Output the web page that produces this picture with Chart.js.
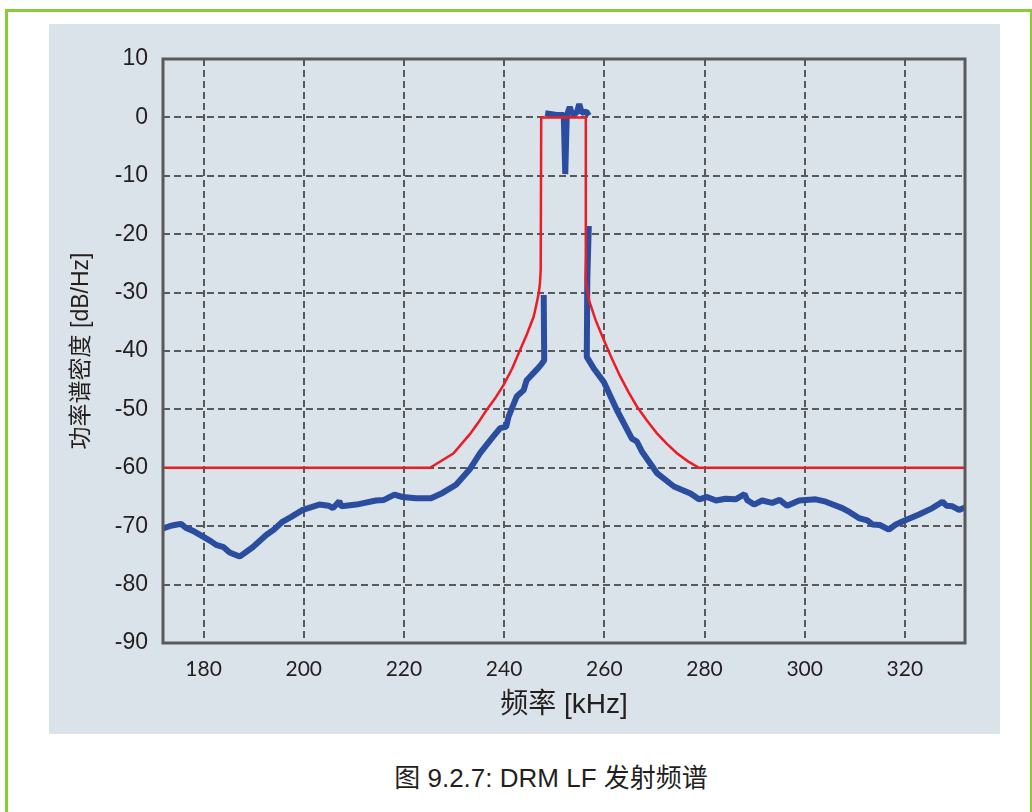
<!DOCTYPE html>
<html>
<head>
<meta charset="utf-8">
<script src="https://cdn.jsdelivr.net/npm/chart.js@4"></script>
<style>
  body { margin: 0; background: #fff; width: 1032px; height: 812px; overflow: hidden; position: relative; }
  .frame { position: absolute; left: 5px; top: 9px; width: 1022px; height: 900px; border: 3px solid #85cf34; }
  .panel { position: absolute; left: 49px; top: 24px; width: 951px; height: 710px; background: #dae2ea; }
  .caption { position: absolute; left: 301px; top: 757px; width: 500px; text-align: center; line-height: 30px;
             font: 26px "Liberation Sans", "Noto Sans CJK SC", sans-serif; color: #231f20; white-space: nowrap; }
</style>
</head>
<body>
<div class="frame"></div>
<div class="panel"><canvas id="chartSpec" width="951" height="710"></canvas></div>
<div class="caption">图 9.2.7: DRM LF 发射频谱</div>
<script>
// data - tick labels
const xTicks = [180, 200, 220, 240, 260, 280, 300, 320];
const yTicks = [10, 0, -10, -20, -30, -40, -50, -60, -70, -80, -90];

// data - spectrum mask (red)
const maskFreq  = [171.9, 225.2, 227.5, 229.9, 231.5, 233.2, 234.8, 236.5, 238.2, 239.9, 241.6, 243.2, 244.6, 245.9, 246.4, 246.9, 247.15, 247.3, 247.4,
                   256.3, 256.3, 256.6, 256.9, 258.3, 259.9, 261.5, 263.2, 264.8, 266.5, 268.5, 270.5, 272.5, 274.5, 276.7, 278.9, 332];
const maskLevel = [-60,   -60,   -58.8, -57.5, -55.9, -54.2, -52.3, -50.1, -48.1, -45.8, -43.0, -39.8, -37.0, -34.1, -32.2, -30.1, -28.4, -26,   0,
                   0,     -27.8, -29.6, -31.2, -34.8, -38.1, -41.3, -44.4, -47.0, -49.5, -51.9, -54.1, -55.9, -57.5, -58.9, -60,   -60];

// data - measured spectrum (blue), null = gap
const specFreq = [
    171.9, 173.2, 174.2, 175.5, 176.5, 177.9, 179.9, 181.5, 182.5, 184.0, 185.2, 187.2, 189.8, 192.5, 194.0, 195.8,
    197.5, 199.8, 203.1, 205.0, 205.8, 206.6, 207.1, 207.5, 210.5, 214.4, 216.0, 218.1, 219.7, 222.4, 225.4, 227.7,
    230.4, 233.1, 235.2, 237.2, 239.2, 240.4, 240.9, 242.5, 243.9, 244.5, 246.5, 247.5, 248.0, 247.9, 248.0,
    248.2, 250.5, 251.9, 252.2, 252.5, 253.1, 253.5, 254.5, 255.0, 255.5, 256.4, 256.9, 256.9,
    256.9, 256.6, 256.5, 257.9, 259.9, 262.5, 265.5, 266.5, 267.5, 270.5, 273.9, 277.2, 278.9, 280.5, 282.3, 284.2,
    286.2, 288.0, 288.5, 289.9, 291.5, 293.5, 295.0, 296.5, 298.9, 302.2, 304.2, 307.5, 309.0, 310.8, 312.5, 313.5,
    315.0, 316.8, 318.0, 319.5, 322.8, 325.5, 327.5, 328.3, 329.5, 330.8, 332.0
];
const specLevel = [
    -70.4, -70.0, -69.8, -69.6, -70.3, -70.8, -71.8, -72.6, -73.2, -73.6, -74.5, -75.2, -73.6, -71.5, -70.6, -69.2,
    -68.4, -67.2, -66.3, -66.5, -66.9, -66.2, -65.7, -66.6, -66.3, -65.6, -65.5, -64.6, -65.0, -65.2, -65.2, -64.3,
    -62.9, -60.3, -57.5, -55.3, -53.2, -53.0, -51.2, -47.8, -46.7, -45.0, -43.2, -42.2, -41.6, -30.4, null,
    0.7, 0.4, 0.4, -9.7, 0.3, 1.8, 0.6, 0.8, 2.3, 0.8, 1.0, 0.3, null,
    -18.6, -27.8, -41.0, -43.0, -45.3, -50.1, -55.0, -55.5, -57.2, -60.9, -63.2, -64.4, -65.4, -65.0, -65.6, -65.3,
    -65.4, -64.5, -65.5, -66.3, -65.6, -66.0, -65.5, -66.5, -65.6, -65.4, -65.8, -66.9, -67.6, -68.6, -69.0, -69.7,
    -69.8, -70.6, -69.8, -69.2, -68.0, -66.9, -65.8, -66.5, -66.6, -67.2, -66.8
];

//chart - variables
const gridColor = '#58595b';
const textColor = '#231f20';
const toPoints = (xs, ys) => xs.map((x, i) => ({x: x, y: ys[i]}));

//chart - spectrum
const ctxSpec = document.getElementById('chartSpec').getContext('2d');
new Chart(ctxSpec, {
    type: 'line',
    data: {
        datasets: [
            {
                data: toPoints(maskFreq, maskLevel),
                borderColor: '#ed1c24',
                borderWidth: 2.5,
                pointRadius: 0,
                tension: 0,
                order: 0
            },
            {
                data: toPoints(specFreq, specLevel),
                borderColor: '#2a4d9f',
                borderWidth: 6,
                borderJoinStyle: 'bevel',
                pointRadius: 0,
                tension: 0,
                spanGaps: false,
                order: 1
            }
        ]
    },
    options: {
        responsive: false,
        animation: false,
        devicePixelRatio: 1,
        layout: {padding: {top: 35, right: 35, left: 0, bottom: 0}},
        plugins: {
            legend: {display: false},
            tooltip: {enabled: false}
        },
        scales: {
            x: {
                type: 'linear',
                min: 171.9,
                max: 332,
                afterBuildTicks: s => { s.ticks = xTicks.map(v => ({value: v})); },
                afterFit: s => { s.height = 91; },
                grid: {color: gridColor, lineWidth: 2, drawTicks: false},
                border: {display: false, dash: [7, 4]},
                ticks: {
                    padding: 14,
                    color: textColor,
                    font: {family: 'Lato', size: 21}
                },
                title: {
                    display: true,
                    text: '频率 [kHz]',
                    color: textColor,
                    padding: {bottom: 12},
                    font: {family: '"Liberation Sans", "Noto Sans CJK SC"', size: 28}
                }
            },
            y: {
                min: -90,
                max: 10,
                afterBuildTicks: s => { s.ticks = yTicks.map(v => ({value: v})); },
                afterFit: s => { s.width = 114; },
                grid: {color: gridColor, lineWidth: 2, drawTicks: false},
                border: {display: false, dash: [7, 4]},
                ticks: {
                    padding: 15,
                    color: textColor,
                    font: {family: 'Liberation Sans', size: 23}
                },
                title: {
                    display: true,
                    text: '功率谱密度 [dB/Hz]',
                    color: textColor,
                    padding: {top: 19},
                    font: {family: '"Liberation Sans", "Noto Sans CJK SC"', size: 23}
                }
            }
        }
    },
    plugins: [{
        id: 'plotFrame',
        afterDraw({ ctx, chartArea }) {
            ctx.save();
            ctx.strokeStyle = gridColor;
            ctx.lineWidth = 3;
            ctx.strokeRect(chartArea.left, chartArea.top, chartArea.right - chartArea.left, chartArea.bottom - chartArea.top);
            ctx.restore();
        }
    }]
});
</script>
</body>
</html>
